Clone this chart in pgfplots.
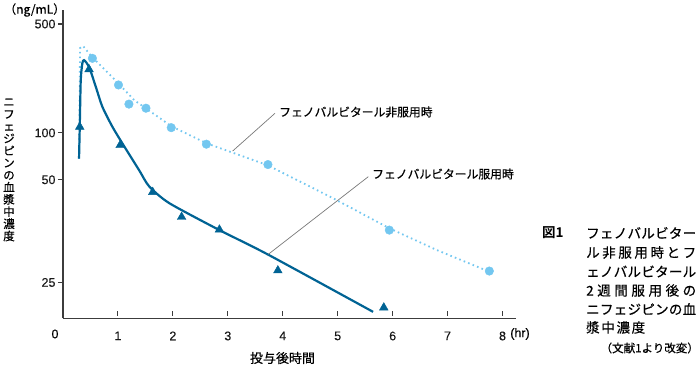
\documentclass[border=0pt]{standalone}
\usepackage{fontspec}
\setmainfont{Liberation Sans}[FakeBold=0.3]
\newfontfamily\jp{Noto Sans CJK JP}[FakeBold=0.5]
\newfontfamily\jpb{Noto Sans CJK JP Bold}
\usepackage{pgfplots}
\pgfplotsset{compat=1.18}
\definecolor{dblue}{RGB}{0,99,148}
\definecolor{lblue}{RGB}{115,199,240}
\definecolor{axgray}{RGB}{60,60,60}
\definecolor{leadgray}{RGB}{120,120,120}
\begin{document}
\begin{tikzpicture}
\path[use as bounding box] (0,0) rectangle (699pt,371pt);
\begin{axis}[
  at={(63pt,52.5pt)}, anchor=south west,
  scale only axis, width=452.7pt, height=308.5pt,
  xmin=0, xmax=8.24,
  y coord trafo/.code={\pgfmathparse{#1>=50 ? ln(#1) : 3.912023-2.19*(3.912023-ln(#1))}},
  ymin=19.6, ymax=615,
  axis lines=left,
  axis line style={-, line width=1.3pt, draw=axgray},
  xtick={1,2,3,4,5,6,7,8},
  ytick={25,50,100,500},
  yticklabels={25,50,100,500},
  tick style={line width=1.1pt, draw=axgray},
  major tick length=5pt,
  ytick align=outside,
  x tick style={yshift=5pt},
  /pgf/number format/assume math mode=true,
  tick label style={font=\fontsize{12.5}{12.5}\selectfont, text=black!90},
  xticklabel style={yshift=-7pt},
  yticklabel style={xshift=1pt},
  clip=false,
]
% non-phenobarbital (dotted)
\addplot[lblue, line width=1.8pt, dash pattern=on 1.6pt off 3.2pt]
 coordinates {(0.29,68) (0.30,121) (0.31,350) (0.365,361) (0.529,306.8) (1.004,208.7) (1.296,162.2) (1.971,110.4) (2.609,85.8) (3.723,62.0) (4.909,44.2) (5.931,36.1) (6.807,31.1) (7.755,26.9)};
% phenobarbital (solid)
\addplot[dblue, line width=2.2pt, smooth, tension=0.4]
 coordinates {(0.292,68.4) (0.305,109.3) (0.323,218) (0.352,279.5) (0.383,293) (0.474,265.7) (0.597,197.6) (0.717,147) (0.900,109.3) (1.082,85.5) (1.387,57.5) (1.569,47.8) (1.934,42.7) (2.847,35.6) (3.728,30.2) (5.644,20.5)};
% circles
\addplot[only marks, mark=*, mark size=4.3pt, mark options={fill=lblue, draw=lblue}]
 coordinates {(0.535,301) (1.01,203) (1.20,153) (1.51,144) (1.97,108) (2.61,84.6) (3.73,62.6) (5.94,35.6) (7.76,27.0)};
% triangles
\addplot[only marks, mark=triangle*, mark size=5pt, mark options={fill=dblue, draw=dblue}]
 coordinates {(0.305,109.3) (0.474,255.6) (1.040,83.3) (1.633,46.0) (2.159,38.9) (2.847,35.7) (3.911,27.1) (5.839,21.1)};
\end{axis}
\begin{scope}[x=1pt,y=-1pt,yshift=371pt]
\node[font=\jp\fontsize{12}{12}\selectfont, anchor=west, inner sep=0] at (4,10) {（ng/mL）};
\node[font=\jp\fontsize{11.5}{12.2}\selectfont, align=center, inner sep=0] at (9,170) {ニ\\フ\\ェ\\ジ\\ピ\\ン\\の\\血\\漿\\中\\濃\\度};
\node[font=\fontsize{12.5}{12.5}\selectfont, inner sep=0] at (55,334) {0};
\node[font=\fontsize{12.5}{12.5}\selectfont, inner sep=0] at (520,334) {(hr)};
\node[font=\jp\fontsize{13}{13}\selectfont, inner sep=0] at (282.5,358) {投与後時間};
\node[font=\jp\fontsize{11.8}{11.8}\selectfont, anchor=west, inner sep=0] at (279,112) {フェノバルビタール非服用時};
\node[font=\jp\fontsize{11.8}{11.8}\selectfont, anchor=west, inner sep=0] at (372,174) {フェノバルビタール服用時};
\draw[leadgray, line width=0.7pt] (275,113.3) -- (232.7,151);
\draw[leadgray, line width=0.7pt] (368.3,176.7) -- (268.3,254.3);
\node[font=\jpb\fontsize{13.5}{13.5}\selectfont, anchor=west, inner sep=0] at (542,233) {図1};
\begin{scope}[every node/.style={font=\jp\fontsize{13.5}{13.5}\selectfont, anchor=west, inner sep=0}]
\node at (586,233) {\makebox[110pt][s]{フ\hfill ェ\hfill ノ\hfill バ\hfill ル\hfill ビ\hfill タ\hfill ー}};
\node at (586,252.5) {\makebox[110pt][s]{ル\hfill 非\hfill 服\hfill 用\hfill 時\hfill と\hfill フ}};
\node at (586,271.5) {\makebox[110pt][s]{ェ\hfill ノ\hfill バ\hfill ル\hfill ビ\hfill タ\hfill ー\hfill ル}};
\node at (586,290.5) {\makebox[110pt][s]{2\hfill 週\hfill 間\hfill 服\hfill 用\hfill 後\hfill の}};
\node at (586,309) {\makebox[110pt][s]{ニ\hfill フ\hfill ェ\hfill ジ\hfill ピ\hfill ン\hfill の\hfill 血}};
\node at (586,327.5) {\makebox[59pt][s]{漿\hfill 中\hfill 濃\hfill 度}};
\end{scope}
\node[font=\jp\fontsize{11.5}{11.5}\selectfont, anchor=east, inner sep=0] at (699,348) {（文献1より改変）};
\end{scope}
\end{tikzpicture}
\end{document}
